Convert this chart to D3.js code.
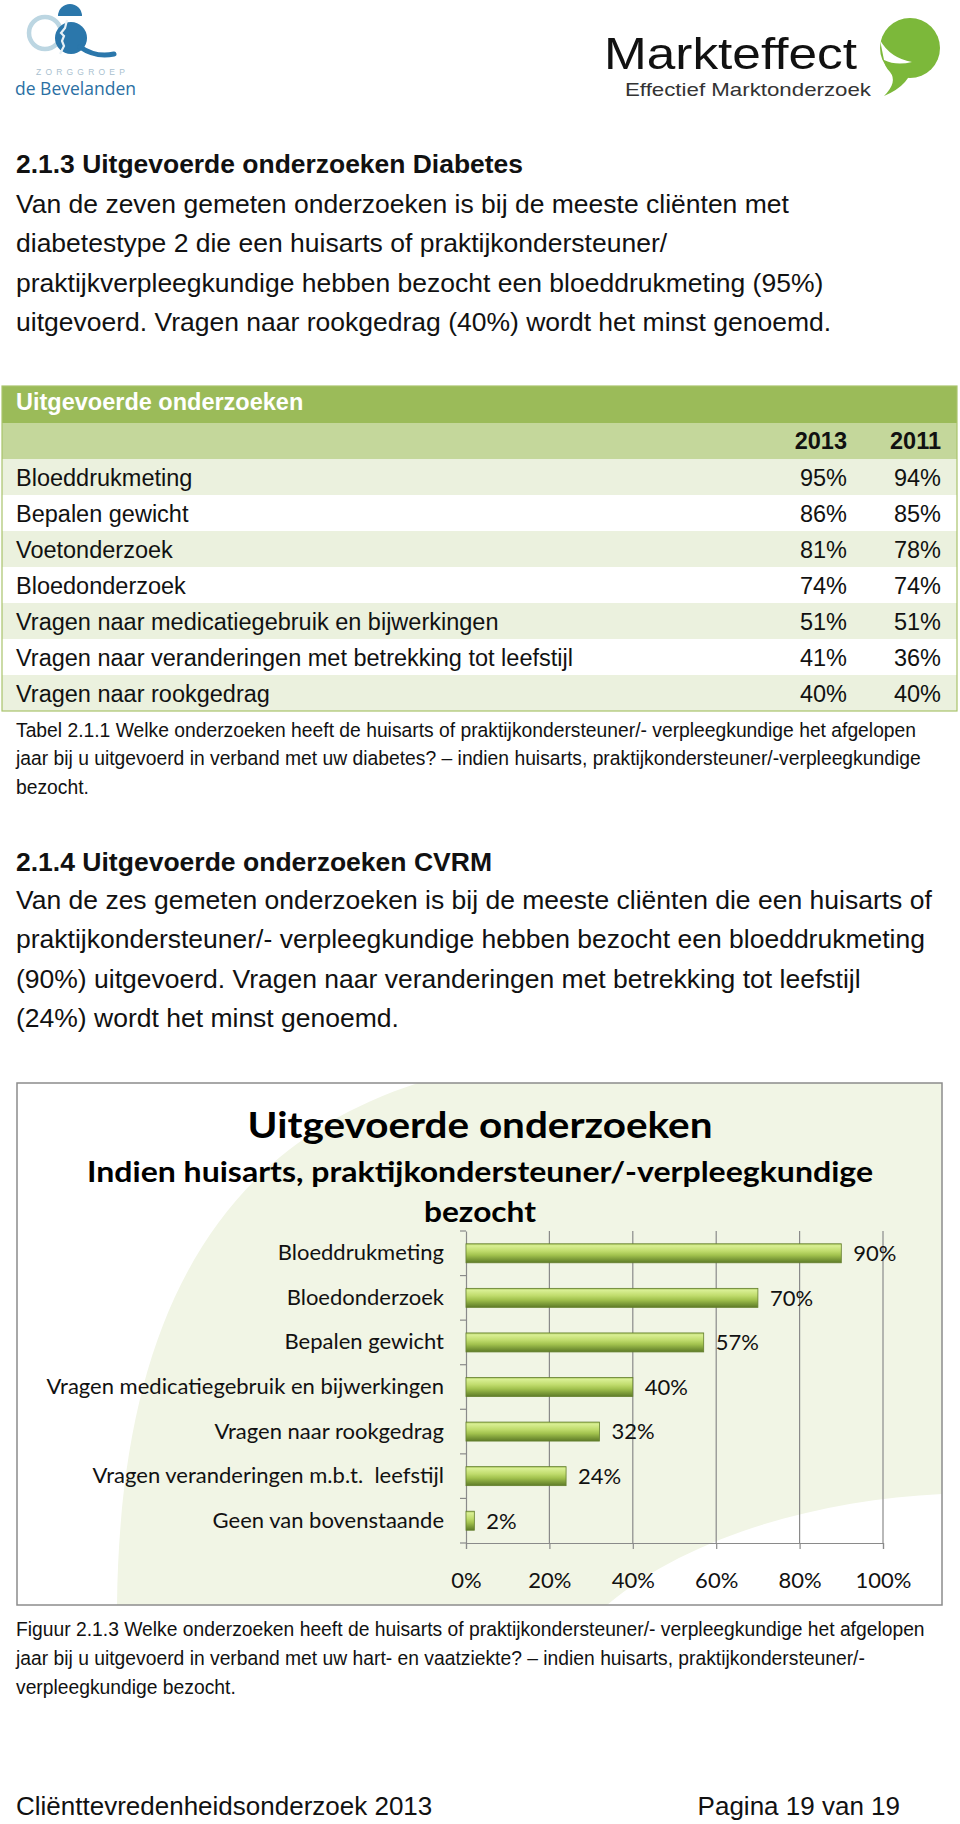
<!DOCTYPE html>
<html><head><meta charset="utf-8">
<script src="https://cdn.jsdelivr.net/npm/d3@7"></script>
<style>
body{margin:0;background:#fff}
svg text{font-kerning:normal}
</style>
</head><body>
<svg id="page" width="960" height="1824" xmlns="http://www.w3.org/2000/svg"></svg>
<script>
// ---------- DATA ----------
const tableTitle = "Uitgevoerde onderzoeken";
const tableYears = ["2013", "2011"];
const tableCategories = [
  "Bloeddrukmeting",
  "Bepalen gewicht",
  "Voetonderzoek",
  "Bloedonderzoek",
  "Vragen naar medicatiegebruik en bijwerkingen",
  "Vragen naar veranderingen met betrekking tot leefstijl",
  "Vragen naar rookgedrag"
];
const table2013 = [95, 86, 81, 74, 51, 41, 40];
const table2011 = [94, 85, 78, 74, 51, 36, 40];

const chartTitle = ["Uitgevoerde onderzoeken"];
const chartSubtitle = ["Indien huisarts, praktijkondersteuner/-verpleegkundige", "bezocht"];
const chartCategories = [
  "Bloeddrukmeting",
  "Bloedonderzoek",
  "Bepalen gewicht",
  "Vragen medicatiegebruik en bijwerkingen",
  "Vragen naar rookgedrag",
  "Vragen veranderingen m.b.t.  leefstijl",
  "Geen van bovenstaande"
];
const chartValues = [90, 70, 57, 40, 32, 24, 2];
const chartTicks = [0, 20, 40, 60, 80, 100];

const heading1 = "2.1.3 Uitgevoerde onderzoeken Diabetes";
const para1 = [
  "Van de zeven gemeten onderzoeken is bij de meeste cliënten met",
  "diabetestype 2 die een huisarts of praktijkondersteuner/",
  "praktijkverpleegkundige hebben bezocht een bloeddrukmeting (95%)",
  "uitgevoerd. Vragen naar rookgedrag (40%) wordt het minst genoemd."
];
const caption1 = [
  "Tabel 2.1.1 Welke onderzoeken heeft de huisarts of praktijkondersteuner/- verpleegkundige het afgelopen",
  "jaar bij u uitgevoerd in verband met uw diabetes? – indien huisarts, praktijkondersteuner/-verpleegkundige",
  "bezocht."
];
const heading2 = "2.1.4 Uitgevoerde onderzoeken CVRM";
const para2 = [
  "Van de zes gemeten onderzoeken is bij de meeste cliënten die een huisarts of",
  "praktijkondersteuner/- verpleegkundige hebben bezocht een bloeddrukmeting",
  "(90%) uitgevoerd. Vragen naar veranderingen met betrekking tot leefstijl",
  "(24%) wordt het minst genoemd."
];
const caption2 = [
  "Figuur 2.1.3 Welke onderzoeken heeft de huisarts of praktijkondersteuner/- verpleegkundige het afgelopen",
  "jaar bij u uitgevoerd in verband met uw hart- en vaatziekte? – indien huisarts, praktijkondersteuner/-",
  "verpleegkundige bezocht."
];
const footerLeft = "Cliënttevredenheidsonderzoek 2013";
const footerRight = "Pagina 19 van 19";

// ---------- SETUP ----------
const svg = d3.select("#page");
const ARIAL = "'Liberation Sans', Arial, Helvetica, sans-serif";
const CAL = "Lato, 'Open Sans', sans-serif";

function lines(arr, x, y0, dy, size, weight) {
  return svg.append("g").selectAll("text").data(arr).join("text")
    .attr("x", x).attr("y", (d, i) => y0 + i * dy)
    .attr("font-family", ARIAL).attr("font-size", size)
    .attr("font-weight", weight || "normal").attr("fill", "#111")
    .text(d => d);
}

// ---------- LOGOS ----------
const logoL = svg.append("g");
logoL.append("circle").attr("cx", 45).attr("cy", 33).attr("r", 16)
  .attr("fill", "none").attr("stroke", "#bcd6e2").attr("stroke-width", 4.5);
logoL.append("path").attr("d", "M58,16 A12,12 0 0 1 82,16 Z").attr("fill", "#2b77ab");
logoL.append("circle").attr("cx", 71).attr("cy", 38).attr("r", 16).attr("fill", "#2b77ab");
logoL.append("path").attr("d", "M80,47 Q96,58 114,54").attr("fill", "none")
  .attr("stroke", "#2b77ab").attr("stroke-width", 5).attr("stroke-linecap", "round");
logoL.append("path").attr("d", "M67,20 L65,28 L61,33 L64,36 L62,41 L64,46 L60,54")
  .attr("fill", "none").attr("stroke", "#e8f1f6").attr("stroke-width", 2.2);
logoL.append("text").attr("x", 36).attr("y", 75).attr("font-family", ARIAL)
  .attr("font-size", 8.5).attr("letter-spacing", 4.2).attr("fill", "#a9bfcf").text("ZORGGROEP");
logoL.append("text").attr("x", 15).attr("y", 95).attr("font-family", "'Open Sans', sans-serif")
  .attr("font-size", 18).attr("fill", "#2b6fa3").attr("textLength", 121)
  .attr("lengthAdjust", "spacingAndGlyphs").text("de Bevelanden");

const logoR = svg.append("g");
logoR.append("text").attr("x", 604).attr("y", 69).attr("font-family", ARIAL)
  .attr("font-size", 45).attr("fill", "#111").attr("textLength", 253)
  .attr("lengthAdjust", "spacingAndGlyphs").text("Markteffect");
logoR.append("text").attr("x", 625).attr("y", 96).attr("font-family", ARIAL)
  .attr("font-size", 19).attr("fill", "#333").attr("textLength", 246)
  .attr("lengthAdjust", "spacingAndGlyphs").text("Effectief Marktonderzoek");
logoR.append("circle").attr("cx", 910).attr("cy", 48).attr("r", 30).attr("fill", "#7cb83a");
logoR.append("path").attr("d", "M884,58 Q902,52 912,64 Q912,84 884,96 Q898,82 890,72 Q884,66 884,58 Z")
  .attr("fill", "#7cb83a");
logoR.append("path").attr("d", "M880,40 Q890,58 912,62 Q896,66 884,60 Z").attr("fill", "#fff");

// ---------- SECTION 1 ----------
lines([heading1], 16, 173, 0, 26.5, "bold").attr("textLength", 507).attr("lengthAdjust", "spacingAndGlyphs");
lines(para1, 16, 212.5, 39.6, 26.5);

// ---------- TABLE ----------
const tX0 = 2, tX1 = 957;
const tg = svg.append("g");
tg.append("rect").attr("x", tX0).attr("y", 386).attr("width", tX1 - tX0).attr("height", 37).attr("fill", "#9bbb59");
tg.append("rect").attr("x", tX0).attr("y", 423).attr("width", tX1 - tX0).attr("height", 36).attr("fill", "#c4d79b");
const rowY = d3.scaleBand().domain(tableCategories).range([459, 711]);
tg.selectAll("rect.row").data(tableCategories).join("rect").attr("class", "row")
  .attr("x", tX0).attr("y", d => rowY(d)).attr("width", tX1 - tX0).attr("height", rowY.bandwidth())
  .attr("fill", (d, i) => i % 2 === 0 ? "#ebf1de" : "#ffffff");
tg.append("rect").attr("x", tX0).attr("y", 386).attr("width", tX1 - tX0).attr("height", 325)
  .attr("fill", "none").attr("stroke", "#a9c46c").attr("stroke-width", 1.2);
tg.append("text").attr("x", 16).attr("y", 410).attr("font-family", ARIAL).attr("font-size", 23.5)
  .attr("font-weight", "bold").attr("fill", "#fff").text(tableTitle);
const colX = [847, 941];
tg.selectAll("text.yr").data(tableYears).join("text").attr("class", "yr")
  .attr("x", (d, i) => colX[i]).attr("y", 449).attr("text-anchor", "end")
  .attr("font-family", ARIAL).attr("font-size", 23.5).attr("font-weight", "bold").attr("fill", "#111").text(d => d);
tg.selectAll("text.cat").data(tableCategories).join("text").attr("class", "cat")
  .attr("x", 16).attr("y", d => rowY(d) + rowY.bandwidth() / 2 + 8.5)
  .attr("font-family", ARIAL).attr("font-size", 23.5).attr("fill", "#111").text(d => d);
[table2013, table2011].forEach((vals, c) => {
  tg.selectAll("text.v" + c).data(vals).join("text").attr("class", "v" + c)
    .attr("x", colX[c]).attr("y", (d, i) => rowY(tableCategories[i]) + rowY.bandwidth() / 2 + 8.5)
    .attr("text-anchor", "end").attr("font-family", ARIAL).attr("font-size", 23.5).attr("fill", "#111")
    .text(d => d + "%");
});

lines(caption1, 16, 736.5, 28.6, 19.3);

// ---------- SECTION 2 ----------
lines([heading2], 16, 871, 0, 26.5, "bold").attr("textLength", 476).attr("lengthAdjust", "spacingAndGlyphs");
lines(para2, 16, 908.5, 39.6, 26.5);

// ---------- CHART ----------
const box = {x0: 17, x1: 942, y0: 1083, y1: 1605};
const cg = svg.append("g");
cg.append("rect").attr("x", box.x0).attr("y", box.y0).attr("width", box.x1 - box.x0).attr("height", box.y1 - box.y0)
  .attr("fill", "#fff");
cg.append("path")
  .attr("d", `M418,${box.y0} L${box.x1},${box.y0} L${box.x1},1494 C820,1500 690,1535 607,${box.y1} L117,${box.y1} C120,1330 210,1150 418,${box.y0} Z`)
  .attr("fill", "#f1f5e5");
cg.append("rect").attr("x", box.x0).attr("y", box.y0).attr("width", box.x1 - box.x0).attr("height", box.y1 - box.y0)
  .attr("fill", "none").attr("stroke", "#8c8c8c").attr("stroke-width", 1.5);

const defs = svg.append("defs");
const grad = defs.append("linearGradient").attr("id", "barGrad").attr("x1", 0).attr("y1", 0).attr("x2", 0).attr("y2", 1);
[[0, "#a9c75c"], [0.1, "#d9ef94"], [0.38, "#c0dc6d"], [0.6, "#a2c24e"], [0.8, "#7f9e3a"], [1, "#5e7b28"]]
  .forEach(([o, c]) => grad.append("stop").attr("offset", o).attr("stop-color", c));

const x = d3.scaleLinear().domain([0, 100]).range([466, 883]);
const y = d3.scaleBand().domain(chartCategories).range([1231, 1543]).paddingInner(0.574).paddingOuter(0.287);

// gridlines
cg.append("g").selectAll("line").data(chartTicks.filter(t => t > 0)).join("line")
  .attr("x1", d => x(d)).attr("x2", d => x(d)).attr("y1", y.range()[0]).attr("y2", y.range()[1])
  .attr("stroke", "#8a8a8a").attr("stroke-width", 1.2);

// x axis
const xAxis = cg.append("g").attr("transform", `translate(0,${y.range()[1]})`)
  .call(d3.axisBottom(x).tickValues(chartTicks).tickFormat(d => d + "%").tickSize(6).tickPadding(23));
xAxis.select(".domain").attr("stroke", "#8a8a8a").attr("stroke-width", 1.2);
xAxis.selectAll(".tick line").attr("stroke", "#8a8a8a").attr("stroke-width", 1.2);
xAxis.selectAll("text").attr("font-family", CAL).attr("font-size", 22).attr("fill", "#111");

// y axis
const yAxis = cg.append("g").attr("transform", `translate(${x(0)},0)`)
  .call(d3.axisLeft(y).tickSize(0).tickPadding(22));
yAxis.select(".domain").attr("stroke", "#8a8a8a").attr("stroke-width", 1.2);
yAxis.selectAll("text").attr("font-family", CAL).attr("font-size", 22).attr("fill", "#111")
  .style("white-space", "pre");
cg.append("g").selectAll("line").data(d3.range(chartCategories.length + 1)).join("line")
  .attr("x1", x(0) - 6).attr("x2", x(0))
  .attr("y1", i => y.range()[0] + i * y.step()).attr("y2", i => y.range()[0] + i * y.step())
  .attr("stroke", "#8a8a8a").attr("stroke-width", 1.2);

// bars
cg.append("g").selectAll("rect").data(chartValues).join("rect")
  .attr("x", x(0)).attr("y", (d, i) => y(chartCategories[i]))
  .attr("width", d => x(d) - x(0)).attr("height", y.bandwidth())
  .attr("fill", "url(#barGrad)").attr("stroke", "#647f2d").attr("stroke-width", 0.8);

// value labels
cg.append("g").selectAll("text").data(chartValues).join("text")
  .attr("x", d => x(d) + 12).attr("y", (d, i) => y(chartCategories[i]) + y.bandwidth() / 2)
  .attr("dy", "0.36em").attr("font-family", CAL).attr("font-size", 22).attr("fill", "#111")
  .text(d => d + "%");

// titles
cg.append("text").attr("x", 480).attr("y", 1138).attr("text-anchor", "middle")
  .attr("font-family", CAL).attr("font-weight", "bold").attr("font-size", 36).attr("fill", "#000")
  .attr("textLength", 465).attr("lengthAdjust", "spacingAndGlyphs").text(chartTitle[0]);
const subW = [786, 112];
cg.selectAll("text.sub").data(chartSubtitle).join("text").attr("class", "sub")
  .attr("x", 480).attr("y", (d, i) => 1182 + i * 40).attr("text-anchor", "middle")
  .attr("font-family", CAL).attr("font-weight", "bold").attr("font-size", 28).attr("fill", "#000")
  .attr("textLength", (d, i) => subW[i]).attr("lengthAdjust", "spacingAndGlyphs").text(d => d);

lines(caption2, 16, 1635.5, 29, 19.3);

// ---------- FOOTER ----------
svg.append("text").attr("x", 16).attr("y", 1815).attr("font-family", ARIAL).attr("font-size", 26)
  .attr("fill", "#111").text(footerLeft);
svg.append("text").attr("x", 900).attr("y", 1815).attr("text-anchor", "end").attr("font-family", ARIAL)
  .attr("font-size", 26).attr("fill", "#111").text(footerRight);
</script>
</body></html>
